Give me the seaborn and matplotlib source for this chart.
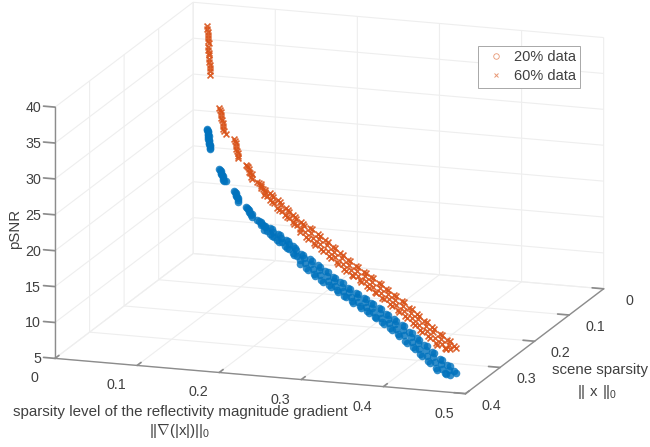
import matplotlib
matplotlib.use('Agg')
import matplotlib.pyplot as plt
import pandas as pd
import seaborn as sns
from matplotlib.lines import Line2D
from mpl_toolkits.mplot3d import Axes3D, proj3d

# gradient sparsity (x), scene sparsity (y), one row per scene
grad_sparsity = [.0257, .0262, .0268, .0275, .0282, .029, .030, .0306, .0313,
                 .048, .050, .052, .054, .056, .059,
                 .0754, .077, .079, .081, .0827,
                 .0974, .100, .103, .106, .1085,
                 .1176, .122, .126, .130,
                 .134, .141, .148, .155, .162, .169, .176, .183, .190, .197,
                 .204, .211, .218, .225, .232, .239, .246, .253, .260, .267,
                 .274, .281, .288, .295, .302, .309, .316, .323, .330, .337,
                 .344, .351, .358, .365, .372, .379, .386, .393, .400, .407,
                 .414, .421, .428, .435, .442, .449, .456, .463, .470, .477]
scene_sparsity = [.021, .020, .022, .021, .023, .022, .025, .024, .026,
                  .040, .038, .043, .042, .046, .046,
                  .062, .060, .065, .063, .067,
                  .080, .078, .084, .083, .088,
                  .096, .095, .103, .102,
                  .114, .106, .125, .117, .137, .128, .148, .139, .159, .151,
                  .175, .157, .186, .168, .198, .179, .209, .190, .220, .202,
                  .231, .213, .242, .224, .254, .235, .265, .246, .276, .258,
                  .287, .269, .298, .280, .310, .291, .321, .302, .332, .314,
                  .343, .325, .354, .336, .366, .347, .377, .358, .384, .374]
psnr_20 = [23.38, 23.05, 22.75, 22.4, 22.1, 21.8, 21.45, 21.1, 20.78,
           18.7, 18.4, 18.1, 17.8, 17.5, 17.3,
           16.7, 16.4, 16.1, 15.8, 15.5,
           15.3, 15.1, 14.9, 14.6, 14.4,
           14.3, 14.1, 14.0, 13.9,
           13.80, 13.62, 13.47, 13.35, 13.22, 13.05, 12.90, 12.68, 12.45, 12.22,
           12.00, 11.80, 11.65, 11.52, 11.40, 11.27, 11.15, 11.05, 10.95, 10.85,
           10.75, 10.65, 10.55, 10.46, 10.37, 10.28, 10.20, 10.12, 10.03, 9.95,
           9.85, 9.72, 9.58, 9.46, 9.34, 9.23, 9.05, 8.85, 8.65, 8.45,
           8.25, 8.08, 7.87, 7.65, 7.45, 7.25, 7.03, 6.92, 6.82, 6.72]
psnr_60 = [37.66, 36.9, 36.1, 35.3, 34.5, 33.7, 32.9, 32.0, 31.15,
           27.2, 26.6, 26.0, 25.3, 24.6, 23.95,
           23.9, 23.3, 22.7, 22.1, 21.5,
           21.26, 20.9, 20.5, 20.1, 19.73,
           19.66, 19.4, 19.15, 18.9,
           18.63, 18.45, 18.25, 17.95, 17.70, 17.46, 17.25, 17.00, 16.80, 16.60,
           16.40, 16.20, 16.02, 15.85, 15.68, 15.52, 15.38, 15.20, 15.02, 14.85,
           14.66, 14.48, 14.30, 14.18, 14.05, 13.93, 13.82, 13.70, 13.58, 13.45,
           13.30, 13.15, 13.02, 12.87, 12.72, 12.58, 12.40, 12.20, 12.02, 11.82,
           11.62, 11.44, 11.25, 11.08, 10.90, 10.72, 10.53, 10.42, 10.33, 10.25]

# scenes along the middle of the bands
grad_mid = [.026, .0265, .0272, .0278, .0286, .0295, .0303, .031,
            .049, .051, .053, .055, .0575,
            .0762, .078, .080, .0818,
            .0987, .1015, .1045, .107,
            .120, .124, .128, .132,
            .1375, .1445, .1515, .1585, .1655, .1725, .1795, .1865, .1935, .2005,
            .2075, .2145, .2215, .2285, .2355, .2425, .2495, .2565, .2635, .2705,
            .2775, .2845, .2915, .2985, .3055, .3125, .3195, .3265, .3335, .3405,
            .3475, .3545, .3615, .3685, .3755, .3825, .3895, .3965, .4035, .4105,
            .4175, .4245, .4315, .4385, .4455, .4525, .4595, .4665, .4735]
scene_mid = [.021, .021, .022, .022, .023, .024, .024, .025,
             .039, .041, .042, .044, .046,
             .061, .062, .064, .065,
             .079, .081, .084, .086,
             .096, .099, .102, .106,
             .114, .112, .125, .123, .136, .134, .148, .145, .159, .156,
             .170, .168, .181, .179, .192, .190, .204, .201, .215, .212,
             .226, .224, .237, .235, .248, .246, .260, .257, .271, .268,
             .282, .280, .293, .291, .304, .302, .316, .313, .327, .324,
             .338, .336, .349, .347, .360, .358, .372, .369, .383]
psnr_20_mid = [23.2, 22.9, 22.6, 22.25, 21.95, 21.6, 21.3, 20.95,
               18.55, 18.25, 17.95, 17.65, 17.4,
               16.55, 16.25, 15.95, 15.65,
               15.2, 15.0, 14.75, 14.5,
               14.2, 14.05, 13.95, 13.85,
               13.71, 13.54, 13.41, 13.28, 13.13, 12.97, 12.79, 12.56, 12.33, 12.11,
               11.90, 11.72, 11.58, 11.46, 11.33, 11.21, 11.10, 11.00, 10.90, 10.80,
               10.70, 10.60, 10.50, 10.41, 10.32, 10.24, 10.16, 10.07, 9.99, 9.90,
               9.78, 9.65, 9.52, 9.40, 9.28, 9.14, 8.95, 8.75, 8.55, 8.35,
               8.16, 7.97, 7.76, 7.55, 7.35, 7.14, 6.97, 6.87, 6.77]
psnr_60_mid = [37.3, 36.5, 35.7, 34.9, 34.1, 33.3, 32.45, 31.6,
               26.9, 26.3, 25.65, 24.95, 24.3,
               23.6, 23.0, 22.4, 21.8,
               21.1, 20.7, 20.3, 19.9,
               19.55, 19.28, 19.02, 18.76,
               18.54, 18.35, 18.10, 17.82, 17.58, 17.35, 17.12, 16.90, 16.70, 16.50,
               16.30, 16.11, 15.93, 15.76, 15.60, 15.45, 15.29, 15.11, 14.93, 14.75,
               14.57, 14.39, 14.24, 14.11, 13.99, 13.87, 13.76, 13.64, 13.51, 13.37,
               13.22, 13.08, 12.94, 12.79, 12.65, 12.49, 12.30, 12.11, 11.92, 11.72,
               11.53, 11.34, 11.16, 10.99, 10.81, 10.62, 10.47, 10.37, 10.29]
# same gradient values as the long stretch of grad_mid, at the band edges
scene_edge = [.104, .122, .115, .133, .126, .144, .138, .155, .149, .166,
              .155, .183, .166, .194, .177, .205, .189, .216, .200, .227,
              .211, .239, .222, .250, .233, .261, .245, .272, .256, .283,
              .267, .295, .278, .306, .289, .317, .301, .328, .312, .339,
              .323, .351, .334, .362, .345, .373, .357, .381, .371]

x_ticks = [0, 0.1, 0.2, 0.3, 0.4, 0.5]
x_labels = ['0', '0.1', '0.2', '0.3', '0.4', '0.5']
y_ticks = [0, 0.1, 0.2, 0.3, 0.4]
y_labels = ['0', '0.1', '0.2', '0.3', '0.4']
z_ticks = [5, 10, 15, 20, 25, 30, 35, 40]

sns.set_theme(style='white', font='Liberation Sans')
plt.rcParams['mathtext.fontset'] = 'custom'
plt.rcParams['mathtext.rm'] = 'Liberation Sans'
plt.rcParams['mathtext.fallback'] = 'cm'

df = pd.DataFrame({'grad': grad_sparsity + grad_mid + grad_mid[25:],
                   'scene': scene_sparsity + scene_mid + scene_edge,
                   'p20': psnr_20 + psnr_20_mid + psnr_20_mid[25:],
                   'p60': psnr_60 + psnr_60_mid + psnr_60_mid[25:]})
blue, red = sns.color_palette(['#0072BD', '#D95319'])
text_col = '#404040'

fig = plt.figure(figsize=(6.5, 4.47), dpi=100)
ax = fig.add_axes([-0.0026, 0.0436, 1.0, 1.0], projection='3d', proj_type='ortho')
ax.view_init(elev=14.8, azim=-71.4)
ax.set_box_aspect((1, 1, 0.6), zoom=1.445)

ax.scatter(df.grad, df.scene, df.p20, c=[blue], marker='o', s=30, alpha=0.8,
           linewidths=0, depthshade=False)
ax.scatter(df.grad, df.scene, df.p60, c=[red], marker='x', s=18, alpha=0.9,
           linewidths=1.2, depthshade=False)

ax.set_xlim(0, 0.5, view_margin=0)
ax.set_ylim(0.4, 0, view_margin=0)
ax.set_zlim(5, 40, view_margin=0)
ax.set_xticks(x_ticks)
ax.set_yticks(y_ticks)
ax.set_zticks(z_ticks)
ax.zaxis.set_ticks_position('upper')

for axis in (ax.xaxis, ax.yaxis, ax.zaxis):
    axis.set_pane_color((1, 1, 1, 0))
    axis.pane.set_edgecolor((1, 1, 1, 0))
    axis._axinfo['grid'].update(color='#eeeeee', linewidth=0.8)
    axis._axinfo['tick'].update(inward_factor=0.0, outward_factor=0.35)
    axis.line.set_color('#8c8c8c')
    axis.line.set_linewidth(1.0)
    axis.set_tick_params(color='#8c8c8c', width=0.8, labelbottom=False, labelleft=False)

# mplot3d resets the tick label transforms, so label each tick by hand from its projected spot
M = ax.get_proj()


def tick_label(xd, yd, zd, text, dx, dy, ha='center'):
    px, py, _ = proj3d.proj_transform(xd, yd, zd, M)
    ax.annotate(text, (px, py), xytext=(dx, dy), textcoords='offset points',
                ha=ha, va='center', fontsize=10.3, color=text_col, annotation_clip=False)


for t, lab in zip(x_ticks, x_labels):
    tick_label(t, 0.4, 5, lab, -15.1, -14.4)
for t, lab in zip(y_ticks, y_labels):
    tick_label(0.5, t, 5, lab, 18.7, -8.6)
for t in z_ticks:
    tick_label(0, 0.4, t, str(t), -10, -0.7, ha='right')

fig.text(180 / 650, 1 - 412 / 447, 'sparsity level of the reflectivity magnitude gradient',
         ha='center', va='center', fontsize=10.9, color=text_col)
fig.text(180 / 650, 1 - 431 / 447, r'$||\nabla(|\mathrm{x}|)||_0$',
         ha='center', va='center', fontsize=10.9, color=text_col)
fig.text(600 / 650, 1 - 370 / 447, 'scene sparsity', ha='center', va='center',
         fontsize=10.8, color=text_col)
fig.text(597 / 650, 1 - 392 / 447, r'$||\ \mathrm{x}\ ||_0$', ha='center', va='center',
         fontsize=10.8, color=text_col)
fig.text(15 / 650, 1 - 229 / 447, 'pSNR', rotation=90, ha='center', va='center',
         fontsize=10.8, color=text_col)

handles = [Line2D([], [], ls='none', marker='o', ms=4, mfc='none', mec=red, mew=0.6, alpha=0.6),
           Line2D([], [], ls='none', marker='x', ms=3.5, mec=red, mew=0.7, alpha=0.6)]
leg = fig.legend(handles, ['20% data', '60% data'], loc='upper left',
                 bbox_to_anchor=(478 / 650, 1 - 46 / 447), bbox_transform=fig.transFigure,
                 fontsize=10.5, frameon=True, fancybox=False, framealpha=1, borderaxespad=0,
                 labelspacing=0.35, handlelength=1.85, handletextpad=0.3, borderpad=0.3,
                 labelcolor=text_col)
leg.get_frame().set_edgecolor('#a8a8a8')
leg.get_frame().set_linewidth(0.7)

fig.savefig('out.png', dpi=100)
